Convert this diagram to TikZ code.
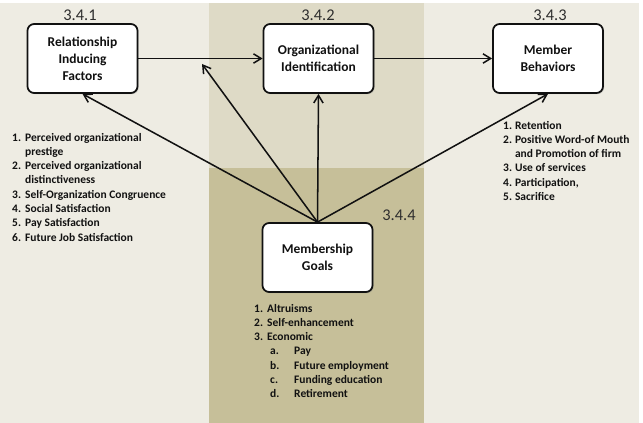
\documentclass[tikz,border=0pt]{standalone}
\usepackage{fontspec}
\setmainfont{Carlito}
\usepackage{tikz}
\usetikzlibrary{arrows.meta,positioning,shadows}
\definecolor{FigureInk}{HTML}{111111}
\definecolor{NumberInk}{HTML}{2E2E2E}
\definecolor{SideFill}{HTML}{EEECE3}
\definecolor{CoreFill}{HTML}{DEDAC6}
\definecolor{GoalFill}{HTML}{C6BF99}
\newcommand{\goalsub}[2]{\hspace{0.09cm}\makebox[0.72cm][l]{#1}#2}
\tikzset{
  figure/.style={x=0.03cm,y=-0.03cm,text=FigureInk,>={Straight Barb[length=2.3mm,width=2.8mm]}},
  construct/.style={draw=FigureInk,line width=1.5pt,rounded corners=2mm,fill=white,align=center,
    minimum width=3.3cm,minimum height=2.07cm,font=\fontsize{11.5}{14.5}\selectfont\bfseries,
    drop shadow={shadow xshift=1pt,shadow yshift=-1pt,opacity=0.35}},
  section/.style={font=\fontsize{14}{16}\selectfont,text=NumberInk},
  itemlist/.style={anchor=base west,inner sep=0pt,font=\fontsize{9.8}{12.2}\selectfont\bfseries},
  link/.style={->,line width=1.3pt,draw=FigureInk},
}

\begin{document}
\begin{tikzpicture}[figure]
  \useasboundingbox (0,0) rectangle (643,423);
  \fill[white] (0,0) rectangle (643,423);
  \fill[SideFill] (0,3) rectangle (639,423);
  \fill[CoreFill] (209,3) rectangle (424,168);
  \fill[GoalFill] (209,168) rectangle (424,423);

  \node[construct] (factors) at (82.5,58.5) {Relationship\\Inducing\\Factors};
  \node[construct] (ident) at (318.5,58.5) {Organizational\\Identification};
  \node[construct] (behaviors) at (548,58.5) {Member\\Behaviors};
  \node[construct] (goals) at (317.5,257.5) {Membership\\Goals};

  \node[section] (factorsno) at (80,15) {3.4.1};
  \node[section] (identno) at (318,15) {3.4.2};
  \node[section] (behaviorsno) at (550,15) {3.4.3};
  \node[section] (goalsno) at (399,215) {3.4.4};

  \node[itemlist] (factorlist) at (12,141) {\begin{tabular}[t]{@{}l@{\hspace{3.5pt}}l@{}}
    1.&Perceived organizational\\
      &prestige\\
    2.&Perceived organizational\\
      &distinctiveness\\
    3.&Self-Organization Congruence\\
    4.&Social Satisfaction\\
    5.&Pay Satisfaction\\
    6.&Future Job Satisfaction
  \end{tabular}};
  \node[itemlist] (behaviorlist) at (503,129) {\begin{tabular}[t]{@{}l@{\hspace{2.5pt}}l@{}}
    1.&Retention\\
    2.&Positive Word-of Mouth\\
      &and Promotion of firm\\
    3.&Use of services\\
    4.&Participation,\\
    5.&Sacrifice
  \end{tabular}};
  \node[itemlist] (goallist) at (254,312) {\begin{tabular}[t]{@{}l@{\hspace{3.5pt}}l@{}}
    1.&Altruisms\\
    2.&Self-enhancement\\
    3.&Economic\\
      &\goalsub{a.}{Pay}\\
      &\goalsub{b.}{Future employment}\\
      &\goalsub{c.}{Funding education}\\
      &\goalsub{d.}{Retirement}
  \end{tabular}};

  \coordinate (crossing) at (202,64);
  \draw[link] (factors.east) -- (ident.west);
  \draw[link] (ident.east) -- (behaviors.west);
  \draw[link] (goals.north) -- (factors.south);
  \draw[link] (goals.north) -- (crossing);
  \draw[link] (goals.north) -- (ident.south);
  \draw[link] (goals.north) -- (behaviors.south);
\end{tikzpicture}
\end{document}
